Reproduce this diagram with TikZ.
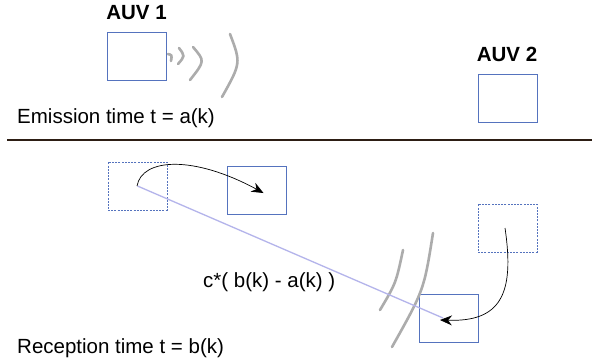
\documentclass[tikz,border=0pt]{standalone}
\usepackage{fontspec}
\setmainfont{Liberation Sans}
\usetikzlibrary{arrows.meta,positioning}
\definecolor{auvblue}{RGB}{85,115,190}
\definecolor{rangeblue}{RGB}{180,180,235}
\definecolor{wavegray}{RGB}{172,172,172}
\definecolor{rulebrown}{RGB}{45,30,20}

\begin{document}
\begin{tikzpicture}[
    x=1pt, y=-1pt,
    font=\fontsize{20.5}{24}\selectfont,
    >=Stealth,
    auv/.style={draw=auvblue, line width=0.8pt, minimum width=59pt, minimum height=48pt, inner sep=0pt},
    ghost/.style={auv, dash pattern=on 2pt off 1.2pt},
    auvname/.style={font=\fontsize{20.5}{24}\selectfont\bfseries, inner sep=0pt, anchor=south west},
    txt/.style={inner sep=0pt, anchor=base west},
    wave/.style={draw=wavegray, line width=2.6pt, line cap=round},
    track/.style={draw, line width=0.7pt, -{Stealth[length=12pt, width=10pt, inset=4pt]}}
]
\useasboundingbox[fill=white] (0,0) rectangle (592,360);

% emission
\node[auv] (auv1) at (137,56) {};
\node[auv] (auv2) at (507.5,98.5) {};
\node[auvname, above right=12pt and -1pt of auv1.north west] (name1) {AUV 1};
\node[auvname, above right=12pt and -1pt of auv2.north west] (name2) {AUV 2};
\node[txt] (emit) at (17,123) {Emission time t = a(k)};
\draw[wave] (168,54) .. controls (172,55) .. (171,61);
\draw[wave] (179,48) .. controls (185,56) .. (178,64);
\draw[wave] (193,47) .. controls (205,61) .. (190,80);
\draw[wave] (230,34) .. controls (241,63) .. (222,97);

\draw[rulebrown, line width=2.2pt] (7,140) -- (592,140);

% reception
\node[ghost] (old1) at (137.5,186) {};
\node[auv] (new1) at (256.5,190) {};
\node[ghost] (old2) at (507.5,228) {};
\node[auv] (new2) at (449,318) {};
\draw[wave] (403,250) .. controls (396,283) .. (380,310);
\draw[wave] (433,233) .. controls (424,290) .. (392,347);
\draw[rangeblue, line width=1.3pt] (old1.center) -- ([xshift=-6pt]new2.center);
\draw[track] ([xshift=-0.5pt]old1.center) .. controls +(5,-28) and +(-70,-38) .. ([shift={(7pt,-3pt)}]new1.center);
\draw[track] ([xshift=-2.5pt]old2.center) .. controls +(10,67) and +(60,2) .. ([shift={(-9pt,-2pt)}]new2.center);
\node[txt] (dist) at (203,287) {c*( b(k) - a(k) )};
\node[txt] (recv) at (17,353) {Reception time t = b(k)};
\end{tikzpicture}
\end{document}
